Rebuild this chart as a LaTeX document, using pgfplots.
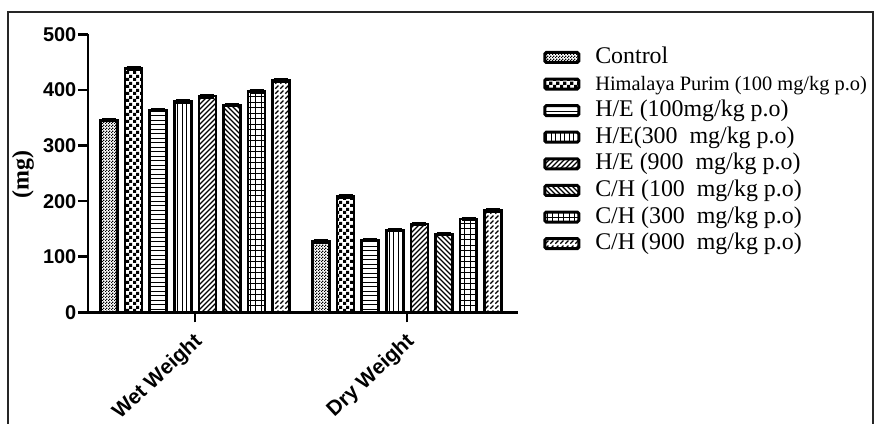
\documentclass[border=0pt]{standalone}
\usepackage{fontspec}
\setmainfont{Liberation Serif}
\setsansfont{Liberation Sans}
\usepackage{pgfplots}
\pgfplotsset{compat=1.18}
\usetikzlibrary{patterns}

% custom patterns (sizes in bp, 1bp = 1px of the reference)
\pgfdeclarepatternformonly{ctrl}{\pgfqpoint{0bp}{0bp}}{\pgfqpoint{3bp}{3bp}}{\pgfqpoint{3bp}{3bp}}{%
  \pgfpathrectangle{\pgfqpoint{0bp}{0bp}}{\pgfqpoint{1.5bp}{1.5bp}}%
  \pgfpathrectangle{\pgfqpoint{1.5bp}{1.5bp}}{\pgfqpoint{1.5bp}{1.5bp}}%
  \pgfusepath{fill}}
\pgfdeclarepatternformonly{himal}{\pgfqpoint{0bp}{0bp}}{\pgfqpoint{7bp}{7bp}}{\pgfqpoint{7bp}{7bp}}{%
  \pgfpathrectangle{\pgfqpoint{0bp}{0bp}}{\pgfqpoint{3.5bp}{3.5bp}}%
  \pgfpathrectangle{\pgfqpoint{3.5bp}{3.5bp}}{\pgfqpoint{3.5bp}{3.5bp}}%
  \pgfusepath{fill}}
\pgfdeclarepatternformonly{hl}{\pgfqpoint{-1bp}{0bp}}{\pgfqpoint{5.5bp}{4.5bp}}{\pgfqpoint{4.5bp}{4.5bp}}{%
  \pgfsetlinewidth{1.3bp}%
  \pgfpathmoveto{\pgfqpoint{-1bp}{2.25bp}}\pgfpathlineto{\pgfqpoint{5.5bp}{2.25bp}}%
  \pgfusepath{stroke}}
\pgfdeclarepatternformonly{vl}{\pgfqpoint{0bp}{-1bp}}{\pgfqpoint{4.5bp}{5.5bp}}{\pgfqpoint{4.5bp}{4.5bp}}{%
  \pgfsetlinewidth{1.3bp}%
  \pgfpathmoveto{\pgfqpoint{2.25bp}{-1bp}}\pgfpathlineto{\pgfqpoint{2.25bp}{5.5bp}}%
  \pgfusepath{stroke}}
\pgfdeclarepatternformonly{ne}{\pgfqpoint{-1bp}{-1bp}}{\pgfqpoint{6bp}{6bp}}{\pgfqpoint{5bp}{5bp}}{%
  \pgfsetlinewidth{1.2bp}%
  \pgfpathmoveto{\pgfqpoint{0bp}{0bp}}\pgfpathlineto{\pgfqpoint{5.1bp}{5.1bp}}%
  \pgfusepath{stroke}}
\pgfdeclarepatternformonly{nw}{\pgfqpoint{-1bp}{-1bp}}{\pgfqpoint{6bp}{6bp}}{\pgfqpoint{5bp}{5bp}}{%
  \pgfsetlinewidth{1.2bp}%
  \pgfpathmoveto{\pgfqpoint{0bp}{5bp}}\pgfpathlineto{\pgfqpoint{5.1bp}{-0.1bp}}%
  \pgfusepath{stroke}}
\pgfdeclarepatternformonly{gridp}{\pgfqpoint{-1bp}{-1bp}}{\pgfqpoint{6.5bp}{6.5bp}}{\pgfqpoint{5.5bp}{5.5bp}}{%
  \pgfsetlinewidth{1.2bp}%
  \pgfpathmoveto{\pgfqpoint{-1bp}{2.75bp}}\pgfpathlineto{\pgfqpoint{6.5bp}{2.75bp}}%
  \pgfpathmoveto{\pgfqpoint{2.75bp}{-1bp}}\pgfpathlineto{\pgfqpoint{2.75bp}{6.5bp}}%
  \pgfusepath{stroke}}
\pgfdeclarepatternformonly{dne}{\pgfqpoint{-1bp}{-1bp}}{\pgfqpoint{6bp}{6bp}}{\pgfqpoint{5bp}{5bp}}{%
  \pgfsetlinewidth{1.3bp}%
  \pgfpathmoveto{\pgfqpoint{0.3bp}{0.3bp}}\pgfpathlineto{\pgfqpoint{3.4bp}{3.4bp}}%
  \pgfusepath{stroke}}

\begin{document}
\begin{tikzpicture}
\useasboundingbox (0,0) rectangle (874bp,424bp);
\draw[line width=1.6bp, black!85] (8bp,0) -- (8bp,412bp) -- (873bp,412bp) -- (873bp,0);
\begin{axis}[
  at={(88bp,111.7bp)}, anchor=south west,
  x=212bp, y=0.5556bp,
  xmin=-0.505, xmax=1.524, ymin=0, ymax=500,
  enlargelimits=false,
  axis lines*=left,
  axis line style={line width=2.5bp},
  every tick/.style={line width=2.5bp, black},
  major tick length=10bp,
  tick align=outside,
  ytick={0,100,200,300,400,500},
  xtick={0,1},
  xticklabels={Wet Weight, Dry Weight},
  /pgf/number format/assume math mode=true,
  tick label style={font=\sffamily\bfseries\fontsize{20}{24}\selectfont},
  yticklabel style={inner sep=1.5bp},
  xticklabel style={rotate=43, anchor=north east, inner sep=0bp, yshift=-5bp, xshift=-8bp,
                    font=\sffamily\bfseries\fontsize{21}{25}\selectfont},
  ylabel={(mg)},
  ylabel style={at={(axis description cs:-0.151,0.497)}, anchor=center,
                font=\bfseries\fontsize{24}{28}\selectfont},
  ybar, bar width=17bp,
  every axis plot/.append style={draw=black, line width=2.5bp, fill=white},
  error bars/y dir=both, error bars/y explicit,
  error bars/error bar style={line width=2.5bp, black},
  error bars/error mark options={rotate=90, mark size=7bp, line width=2.5bp, black},
  legend image code/.code={\draw[#1, draw=black, line width=3bp, rounded corners=1.5bp] (0bp,-5bp) rectangle (34bp,5bp);},
  legend style={at={(rel axis cs:1.051,0.965)}, anchor=north west, draw=none, fill=none,
    font=\fontsize{24}{28}\selectfont,
    nodes={inner sep=0pt, text height=17bp, text depth=5bp},
    row sep=4.6bp,
    /tikz/every odd column/.append style={column sep=15bp}},
  legend cell align=left,
]
\addplot[bar shift=-86.1bp, pattern=ctrl] coordinates {(0,346) +- (0,2) (1,127) +- (0,2)};
\addlegendentry{Control}
\addplot[bar shift=-61.5bp, pattern=himal] coordinates {(0,439) +- (0,2) (1,208) +- (0,2)};
\addlegendentry{\fontsize{20.5}{24}\selectfont Himalaya Purim (100 mg/kg p.o)}
\addplot[bar shift=-36.9bp, pattern=hl] coordinates {(0,364) +- (0,2) (1,130) +- (0,2)};
\addlegendentry{H/E (100mg/kg p.o)}
\addplot[bar shift=-12.3bp, pattern=vl] coordinates {(0,380) +- (0,2) (1,148) +- (0,2)};
\addlegendentry{H/E(300~~mg/kg p.o)}
\addplot[bar shift=12.3bp, pattern=ne] coordinates {(0,389) +- (0,2) (1,159) +- (0,2)};
\addlegendentry{H/E (900~~mg/kg p.o)}
\addplot[bar shift=36.9bp, pattern=nw] coordinates {(0,373) +- (0,2) (1,141) +- (0,2)};
\addlegendentry{C/H (100~~mg/kg p.o)}
\addplot[bar shift=61.5bp, pattern=gridp] coordinates {(0,397) +- (0,2) (1,168) +- (0,2)};
\addlegendentry{C/H (300~~mg/kg p.o)}
\addplot[bar shift=86.1bp, pattern=dne] coordinates {(0,417) +- (0,2) (1,183) +- (0,2)};
\addlegendentry{C/H (900~~mg/kg p.o)}
\end{axis}
\end{tikzpicture}
\end{document}
